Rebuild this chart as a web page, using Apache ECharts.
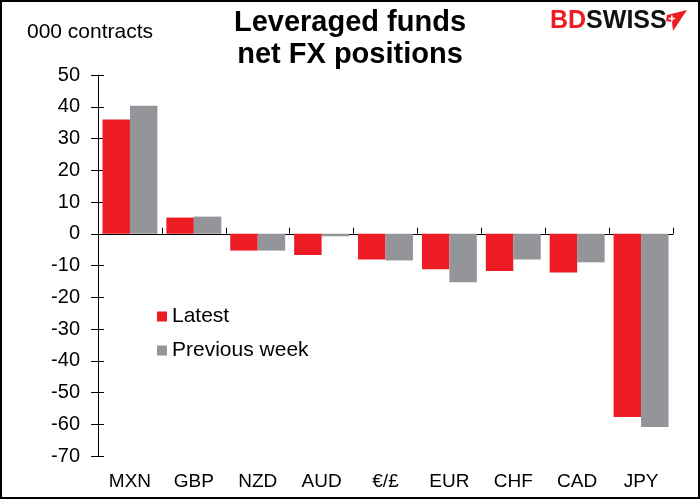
<!DOCTYPE html>
<html>
<head>
<meta charset="utf-8">
<script src="https://cdn.jsdelivr.net/npm/echarts@6/dist/echarts.min.js"></script>
<style>
html,body{margin:0;padding:0;background:#fff;}
#c{width:700px;height:499px;}
</style>
</head>
<body>
<div id="c"></div>
<script>
var categories = ['MXN','GBP','NZD','AUD','\u20AC/\u00A3','EUR','CHF','CAD','JPY'];
var latest = [36, 5.1, -5.3, -6.7, -8.1, -11.2, -11.7, -12.2, -57.7];
var previousWeek = [40.3, 5.4, -5.3, -0.8, -8.4, -15.3, -8.1, -9.0, -60.9];
var yTicks = {min: -70, max: 50, interval: 10};

var RED = '#ED1C24', GRAY = '#939598';
var FONT = 'Liberation Sans, Arial, sans-serif';
var chart = echarts.init(document.getElementById('c'));
chart.setOption({
  animation: false,
  backgroundColor: '#fff',
  title: {
    text: 'Leveraged funds\nnet FX positions',
    left: 'center',
    top: 2,
    textStyle: {fontFamily: FONT, fontWeight: 'bold', fontSize: 29, lineHeight: 32, color: '#000'}
  },
  legend: {
    orient: 'vertical',
    left: 152,
    top: 301,
    itemWidth: 10,
    itemHeight: 10,
    itemGap: 13,
    icon: 'rect',
    textStyle: {fontFamily: FONT, fontSize: 21, color: '#000'},
    data: ['Latest','Previous week']
  },
  grid: {left: 98, right: 27, top: 75, bottom: 43, containLabel: false},
  xAxis: [{
    type: 'category',
    data: categories,
    axisLine: {onZero: true, lineStyle: {color: '#000', width: 1}},
    axisTick: {show: true, inside: true, length: 6, lineStyle: {color: '#000'}},
    axisLabel: {show: false},
    splitLine: {show: false}
  },{
    type: 'category',
    data: categories,
    position: 'bottom',
    axisLine: {show: false, onZero: false},
    axisTick: {show: false},
    axisLabel: {show: true, margin: 16, fontFamily: FONT, fontSize: 19, color: '#000'},
    splitLine: {show: false}
  }],
  yAxis: [{
    type: 'value',
    min: yTicks.min, max: yTicks.max, interval: yTicks.interval,
    axisLine: {show: true, lineStyle: {color: '#000', width: 1}},
    axisTick: {show: true, inside: false, length: 7, lineStyle: {color: '#000'}},
    axisLabel: {margin: 18, fontFamily: FONT, fontSize: 20, color: '#000'},
    splitLine: {show: false}
  },{
    type: 'value',
    position: 'left',
    min: yTicks.min, max: yTicks.max, interval: yTicks.interval,
    axisLine: {show: false},
    axisTick: {show: true, inside: true, length: 6, lineStyle: {color: '#000'}},
    axisLabel: {show: false},
    splitLine: {show: false}
  }],
  series: [{
    name: 'Latest', type: 'bar', data: latest,
    itemStyle: {color: RED}, barGap: '0%', barCategoryGap: '14%'
  },{
    name: 'Previous week', type: 'bar', data: previousWeek,
    itemStyle: {color: GRAY}, barGap: '0%', barCategoryGap: '14%'
  }],
  graphic: [
    {type: 'rect', shape: {x: 1, y: 1, width: 698, height: 497}, style: {fill: 'none', stroke: '#000', lineWidth: 2}, silent: true},
    {type: 'text', left: 27, top: 22, style: {text: '000 contracts', font: '21px ' + FONT, fill: '#000'}},
    {type: 'text', left: 550, top: 9, style: {
      text: '{r|BD}{k|SWISS}',
      rich: {
        r: {fill: RED, font: 'bold 25px ' + FONT},
        k: {fill: '#111', font: 'bold 25px ' + FONT}
      }
    }},
    {type: 'polygon', shape: {points: [[667,15],[687,10],[673,31],[672,22],[666,21]]}, style: {fill: RED}},
    {type: 'rect', shape: {x: 671, y: 15.5, width: 1.6, height: 6}, style: {fill: '#fff'}},
    {type: 'rect', shape: {x: 668.8, y: 17.8, width: 6, height: 1.6}, style: {fill: '#fff'}}
  ]
});
</script>
</body>
</html>
